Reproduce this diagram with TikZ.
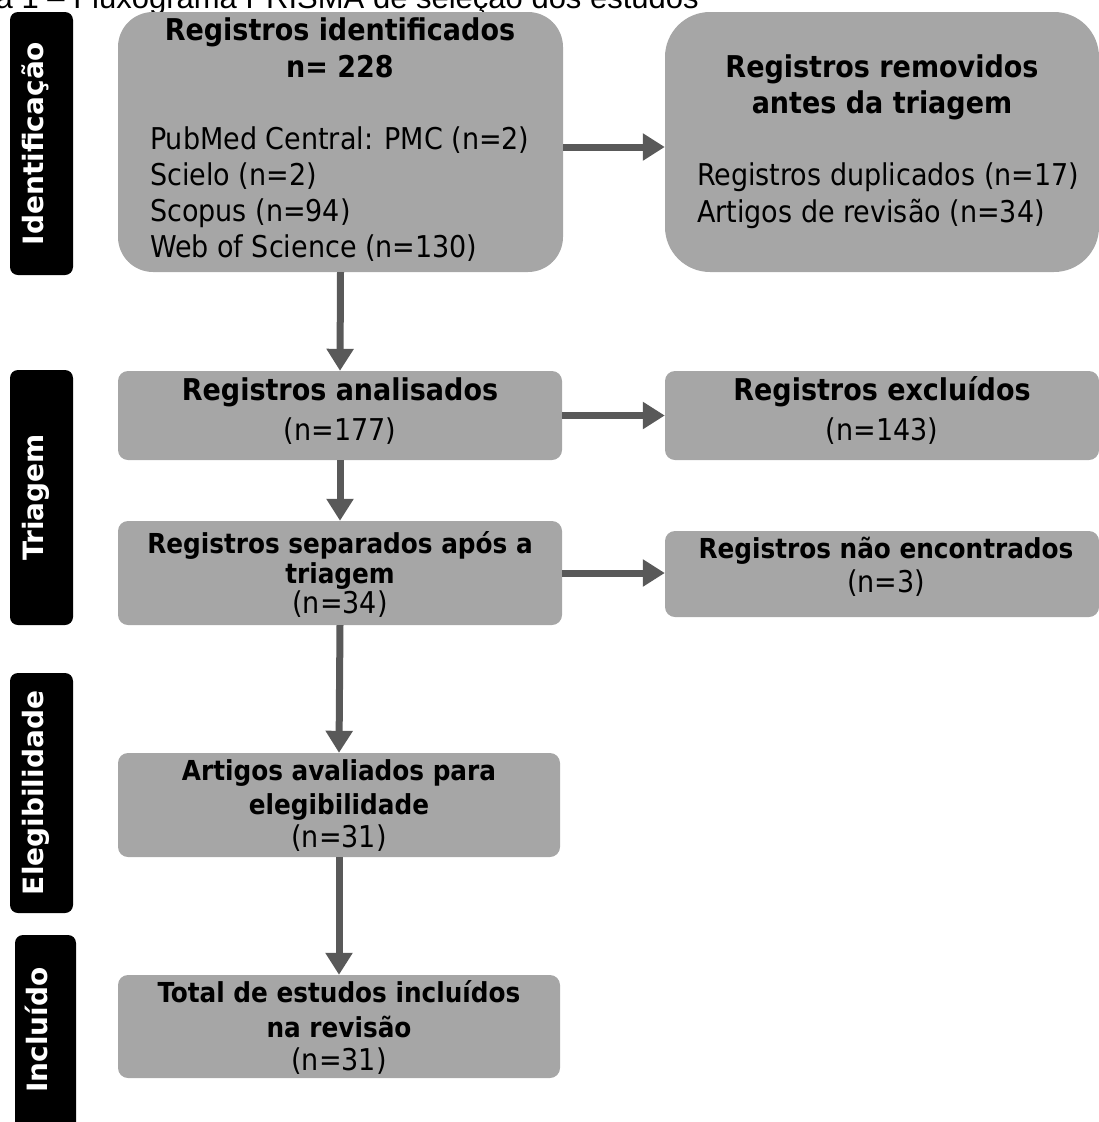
\documentclass[tikz,border=0pt]{standalone}
\usepackage{fontspec}
\usetikzlibrary{arrows.meta}
\newfontfamily\boxfont{DejaVu Sans Condensed}
\newfontfamily\labfont{DejaVu Sans}
\newfontfamily\titfont{Liberation Sans}
\definecolor{boxgray}{HTML}{A6A6A6}
\definecolor{arrgray}{HTML}{595959}
\begin{document}
\begin{tikzpicture}[x=1pt,y=1pt,
  box/.style={fill=boxgray,draw=none,rounded corners=#1,inner sep=0,minimum width=0},
  box/.default=10pt,
  lab/.style={fill=black,rounded corners=8pt,inner sep=0},
  labtxt/.style={text=white,rotate=90,font=\labfont\bfseries\fontsize{28}{32}\selectfont,anchor=mid,inner sep=0},
  tb/.style={font=\boxfont\bfseries\fontsize{30}{36}\selectfont,anchor=mid,inner sep=0},
  tbs/.style={font=\boxfont\bfseries\fontsize{27.5}{32}\selectfont,anchor=mid,inner sep=0},
  tr/.style={font=\boxfont\fontsize{30}{36}\selectfont,anchor=mid,inner sep=0},
  trl/.style={font=\boxfont\fontsize{30}{36}\selectfont,anchor=mid west,inner sep=0},
  arr/.style={draw=arrgray,line width=7pt,-{Triangle[length=22pt,width=26pt]},fill=arrgray}
]
\useasboundingbox (0,0) rectangle (1099,-1122);
\clip (0,0) rectangle (1099,-1122);

% title (cropped at the top edge, as in the reference)
\node[font=\titfont\fontsize{31}{36}\selectfont,anchor=base east,inner sep=0] (title) at (699,-8) {Figura 1 – Fluxograma PRISMA de seleção dos estudos};

% side labels
\node[lab,minimum width=63pt,minimum height=263pt] (L1) at (41.5,-143.5) {};
\node[labtxt] (L1t) at (L1.center) {Identificação};
\node[lab,minimum width=63pt,minimum height=255pt] (L2) at (41.5,-497.5) {};
\node[labtxt] (L2t) at (L2.center) {Triagem};
\node[lab,minimum width=63pt,minimum height=240pt] (L3) at (41.5,-793) {};
\node[labtxt] (L3t) at (L3.center) {Elegibilidade};
\node[lab,minimum width=61pt,minimum height=200pt] (L4) at (45.5,-1035) {};
\node[labtxt] (L4t) at (45.5,-1030) {Incluído};

% boxes
\node[box=35pt,minimum width=445pt,minimum height=260pt] (b1) at (340.5,-142) {};
\node[box=45pt,minimum width=434pt,minimum height=260pt] (b2) at (882,-142) {};
\node[box=10pt,minimum width=444pt,minimum height=89pt] (b3) at (340,-415.5) {};
\node[box=10pt,minimum width=434pt,minimum height=89pt] (b4) at (882,-415.5) {};
\node[box=10pt,minimum width=444pt,minimum height=104pt] (b5) at (340,-573) {};
\node[box=10pt,minimum width=434pt,minimum height=86pt] (b6) at (882,-574) {};
\node[box=10pt,minimum width=442pt,minimum height=104pt] (b7) at (339,-805) {};
\node[box=10pt,minimum width=442pt,minimum height=103pt] (b8) at (339,-1026.5) {};

% box texts
\node[tb] (t1a) at (340,-38) {Registros identificados};
\node[tb] (t1b) at (340,-75) {n= 228};
\node[trl] (t1c) at (150,-147) {PubMed Central: PMC (n=2)};
\node[trl] (t1d) at (150,-183) {Scielo (n=2)};
\node[trl] (t1e) at (150,-219) {Scopus (n=94)};
\node[trl] (t1f) at (150,-255) {Web of Science (n=130)};

\node[tb] (t2a) at (882,-75) {Registros removidos};
\node[tb] (t2b) at (882,-111) {antes da triagem};
\node[trl] (t2c) at (697,-183) {Registros duplicados (n=17)};
\node[trl] (t2d) at (697,-220) {Artigos de revisão (n=34)};

\node[tb] (t3a) at (340,-398) {Registros analisados};
\node[tr] (t3b) at (340,-438) {(n=177)};

\node[tb] (t4a) at (882,-398) {Registros excluídos};
\node[tr] (t4b) at (882,-438) {(n=143)};

\node[tbs] (t5a) at (340,-551) {Registros separados após a};
\node[tbs] (t5b) at (340,-581) {triagem};
\node[tr] (t5c) at (340,-611) {(n=34)};

\node[tbs] (t6a) at (886,-556) {Registros não encontrados};
\node[tr] (t6b) at (886,-590) {(n=3)};

\node[tbs] (t7a) at (339,-778) {Artigos avaliados para};
\node[tbs] (t7b) at (339,-812) {elegibilidade};
\node[tr] (t7c) at (339,-845) {(n=31)};

\node[tbs] (t8a) at (339,-1000) {Total de estudos incluídos};
\node[tbs] (t8b) at (339,-1035) {na revisão};
\node[tr] (t8c) at (339,-1068) {(n=31)};

% arrows
\draw[arr] ([yshift=-5pt]b1.east) -- ([yshift=-5pt]b2.west);
\draw[arr] (b3.east) -- (b4.west);
\draw[arr] (b5.east) -- (b6.west |- b5.east);
\draw[arr] (b1.south) -- (b3.north);
\draw[arr] (b3.south) -- (b5.north);
\draw[arr] (b5.south) -- (b7.north);
\draw[arr] (b7.south) -- (b8.north);
\end{tikzpicture}
\end{document}
